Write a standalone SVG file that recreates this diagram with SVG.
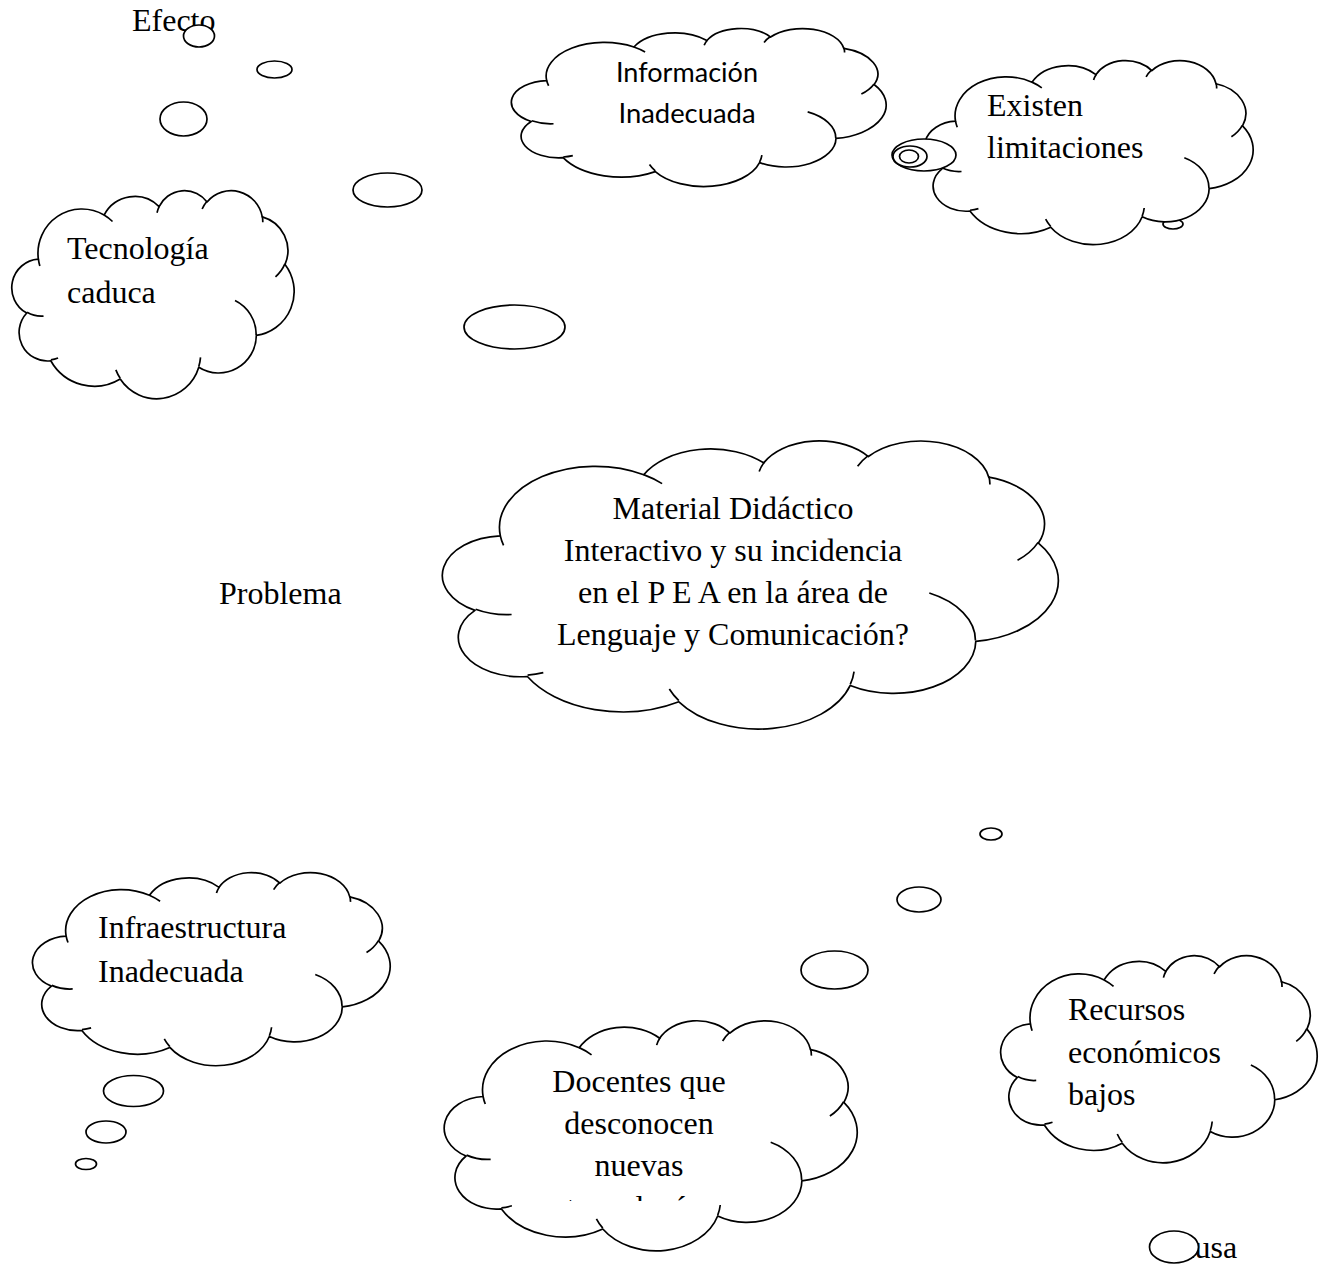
<svg xmlns="http://www.w3.org/2000/svg" width="1323" height="1268" viewBox="0 0 1323 1268">
<style>
.cl{fill:#fff;stroke:#000;stroke-width:1.7;vector-effect:non-scaling-stroke;stroke-linejoin:round}
.ci{fill:none;stroke:#000;stroke-width:1.7;vector-effect:non-scaling-stroke}
.bub{fill:#fff;stroke:#000;stroke-width:1.7}
.t{font-family:"Liberation Serif","Times New Roman",serif;font-size:32px;fill:#000}
.c{font-family:Lato,"Liberation Sans",sans-serif;font-size:26px;fill:#000}
</style>
<defs>
<path id="cloud" class="cl" d="M3900 14370 A6753 9190 0 0 1 14006 5203 A5333 7267 0 0 1 22458 3432 A4365 5945 0 0 1 29836 2481 A4857 6595 0 0 1 38320 5577 A5333 7273 0 0 1 41821 15461 A6775 9220 0 0 1 37406 30203 A5785 7867 0 0 1 28557 36813 A6752 9215 0 0 1 16482 39265 A7720 10543 0 0 1 5805 35471 A4360 5918 0 0 1 2113 25551 A4345 5945 0 0 1 3900 14370 Z"/>
<path id="cloudIn" class="ci" d="M4693 26177 A4345 5945 0 0 1 2160 25380 M6928 34899 A4360 5918 0 0 1 5820 35280 M16478 39090 A6752 9215 0 0 1 15810 37349 M28827 34751 A6752 9215 0 0 1 28561 36659 M34129 22954 A5785 7867 0 0 1 37380 30090 M41798 15354 A5333 7273 0 0 1 40348 18032 M38324 5426 A4857 6595 0 0 1 38400 6690 M29078 3952 A4857 6595 0 0 1 29821 2339 M22141 4720 A4365 5945 0 0 1 22500 3331 M14000 5192 A6753 9190 0 0 1 15299 6540 M4127 15789 A6753 9190 0 0 1 3900 14370"/>
<clipPath id="docClip"><rect x="446" y="1020" width="411" height="181"/></clipPath>
</defs>
<rect width="1323" height="1268" fill="#fff"/>

<g id="labels">
<text class="t" x="132" y="31">Efecto</text>
<text class="t" x="219" y="604">Problema</text>
<text class="t" x="1159" y="1258">Causa</text>
</g>

<g id="connectors-back">
<ellipse class="bub" cx="1173" cy="224" rx="10" ry="5"/>
</g>

<g id="n-tecnologia">
<use href="#cloud" transform="translate(13 190) scale(0.006505 0.004815)"/>
<use href="#cloudIn" transform="translate(13 190) scale(0.006505 0.004815)"/>
<text class="t" x="67" y="259">Tecnología</text>
<text class="t" x="67" y="303">caduca</text>
</g>

<g id="n-informacion">
<use href="#cloud" transform="translate(513 28) scale(0.008634 0.003657)"/>
<use href="#cloudIn" transform="translate(513 28) scale(0.008634 0.003657)"/>
<text class="c" x="687" y="82" text-anchor="middle" textLength="142" lengthAdjust="spacingAndGlyphs">Información</text>
<text class="c" x="687" y="123" text-anchor="middle" textLength="137" lengthAdjust="spacingAndGlyphs">Inadecuada</text>
</g>

<g id="n-existen">
<use href="#cloud" transform="translate(926 60) scale(0.007569 0.004259)"/>
<use href="#cloudIn" transform="translate(926 60) scale(0.007569 0.004259)"/>
<text class="t" x="987" y="116">Existen</text>
<text class="t" x="987" y="158">limitaciones</text>
</g>

<g id="n-problema">
<use href="#cloud" transform="translate(445 440) scale(0.01419 0.006667)"/>
<use href="#cloudIn" transform="translate(445 440) scale(0.01419 0.006667)"/>
<text class="t" x="733" y="519" text-anchor="middle">Material Didáctico</text>
<text class="t" x="733" y="561" text-anchor="middle">Interactivo y su incidencia</text>
<text class="t" x="733" y="603" text-anchor="middle">en el P E A en la área de</text>
<text class="t" x="733" y="645" text-anchor="middle">Lenguaje y Comunicación?</text>
</g>

<g id="n-infraestructura">
<use href="#cloud" transform="translate(34 872) scale(0.008241 0.004468)"/>
<use href="#cloudIn" transform="translate(34 872) scale(0.008241 0.004468)"/>
<text class="t" x="98" y="938">Infraestructura</text>
<text class="t" x="98" y="982">Inadecuada</text>
</g>

<g id="n-docentes">
<use href="#cloud" transform="translate(446 1020) scale(0.009514 0.005324)"/>
<use href="#cloudIn" transform="translate(446 1020) scale(0.009514 0.005324)"/>
<g clip-path="url(#docClip)">
<text class="t" x="639" y="1092" text-anchor="middle">Docentes que</text>
<text class="t" x="639" y="1134" text-anchor="middle">desconocen</text>
<text class="t" x="639" y="1176" text-anchor="middle">nuevas</text>
<text class="t" x="639" y="1218" text-anchor="middle">tecnologías</text>
</g>
</g>

<g id="n-recursos">
<use href="#cloud" transform="translate(1002 955) scale(0.007292 0.004792)"/>
<use href="#cloudIn" transform="translate(1002 955) scale(0.007292 0.004792)"/>
<text class="t" x="1068" y="1020">Recursos</text>
<text class="t" x="1068" y="1063">económicos</text>
<text class="t" x="1068" y="1105">bajos</text>
</g>

<g id="connectors">
<ellipse class="bub" cx="199" cy="36" rx="15.5" ry="11"/>
<ellipse class="bub" cx="274.5" cy="69.5" rx="17.5" ry="8.5"/>
<ellipse class="bub" cx="183.5" cy="119" rx="23.5" ry="17"/>
<ellipse class="bub" cx="387.5" cy="190" rx="34.5" ry="17"/>
<ellipse class="bub" cx="514.5" cy="327" rx="50.5" ry="22"/>
<ellipse class="bub" cx="924" cy="155" rx="32" ry="16"/>
<ellipse class="bub" cx="910" cy="156.5" rx="17" ry="10.5"/>
<ellipse class="bub" cx="909" cy="156.5" rx="9.5" ry="6.5"/>
<ellipse class="bub" cx="991" cy="834" rx="11" ry="6"/>
<ellipse class="bub" cx="919" cy="899.5" rx="22" ry="12.5"/>
<ellipse class="bub" cx="834.5" cy="970" rx="33.5" ry="19"/>
<ellipse class="bub" cx="133.5" cy="1091" rx="30" ry="15.5"/>
<ellipse class="bub" cx="106" cy="1132" rx="20" ry="11"/>
<ellipse class="bub" cx="86" cy="1164" rx="10.5" ry="5.5"/>
<ellipse class="bub" cx="1174" cy="1247" rx="24.5" ry="16"/>
</g>
</svg>
